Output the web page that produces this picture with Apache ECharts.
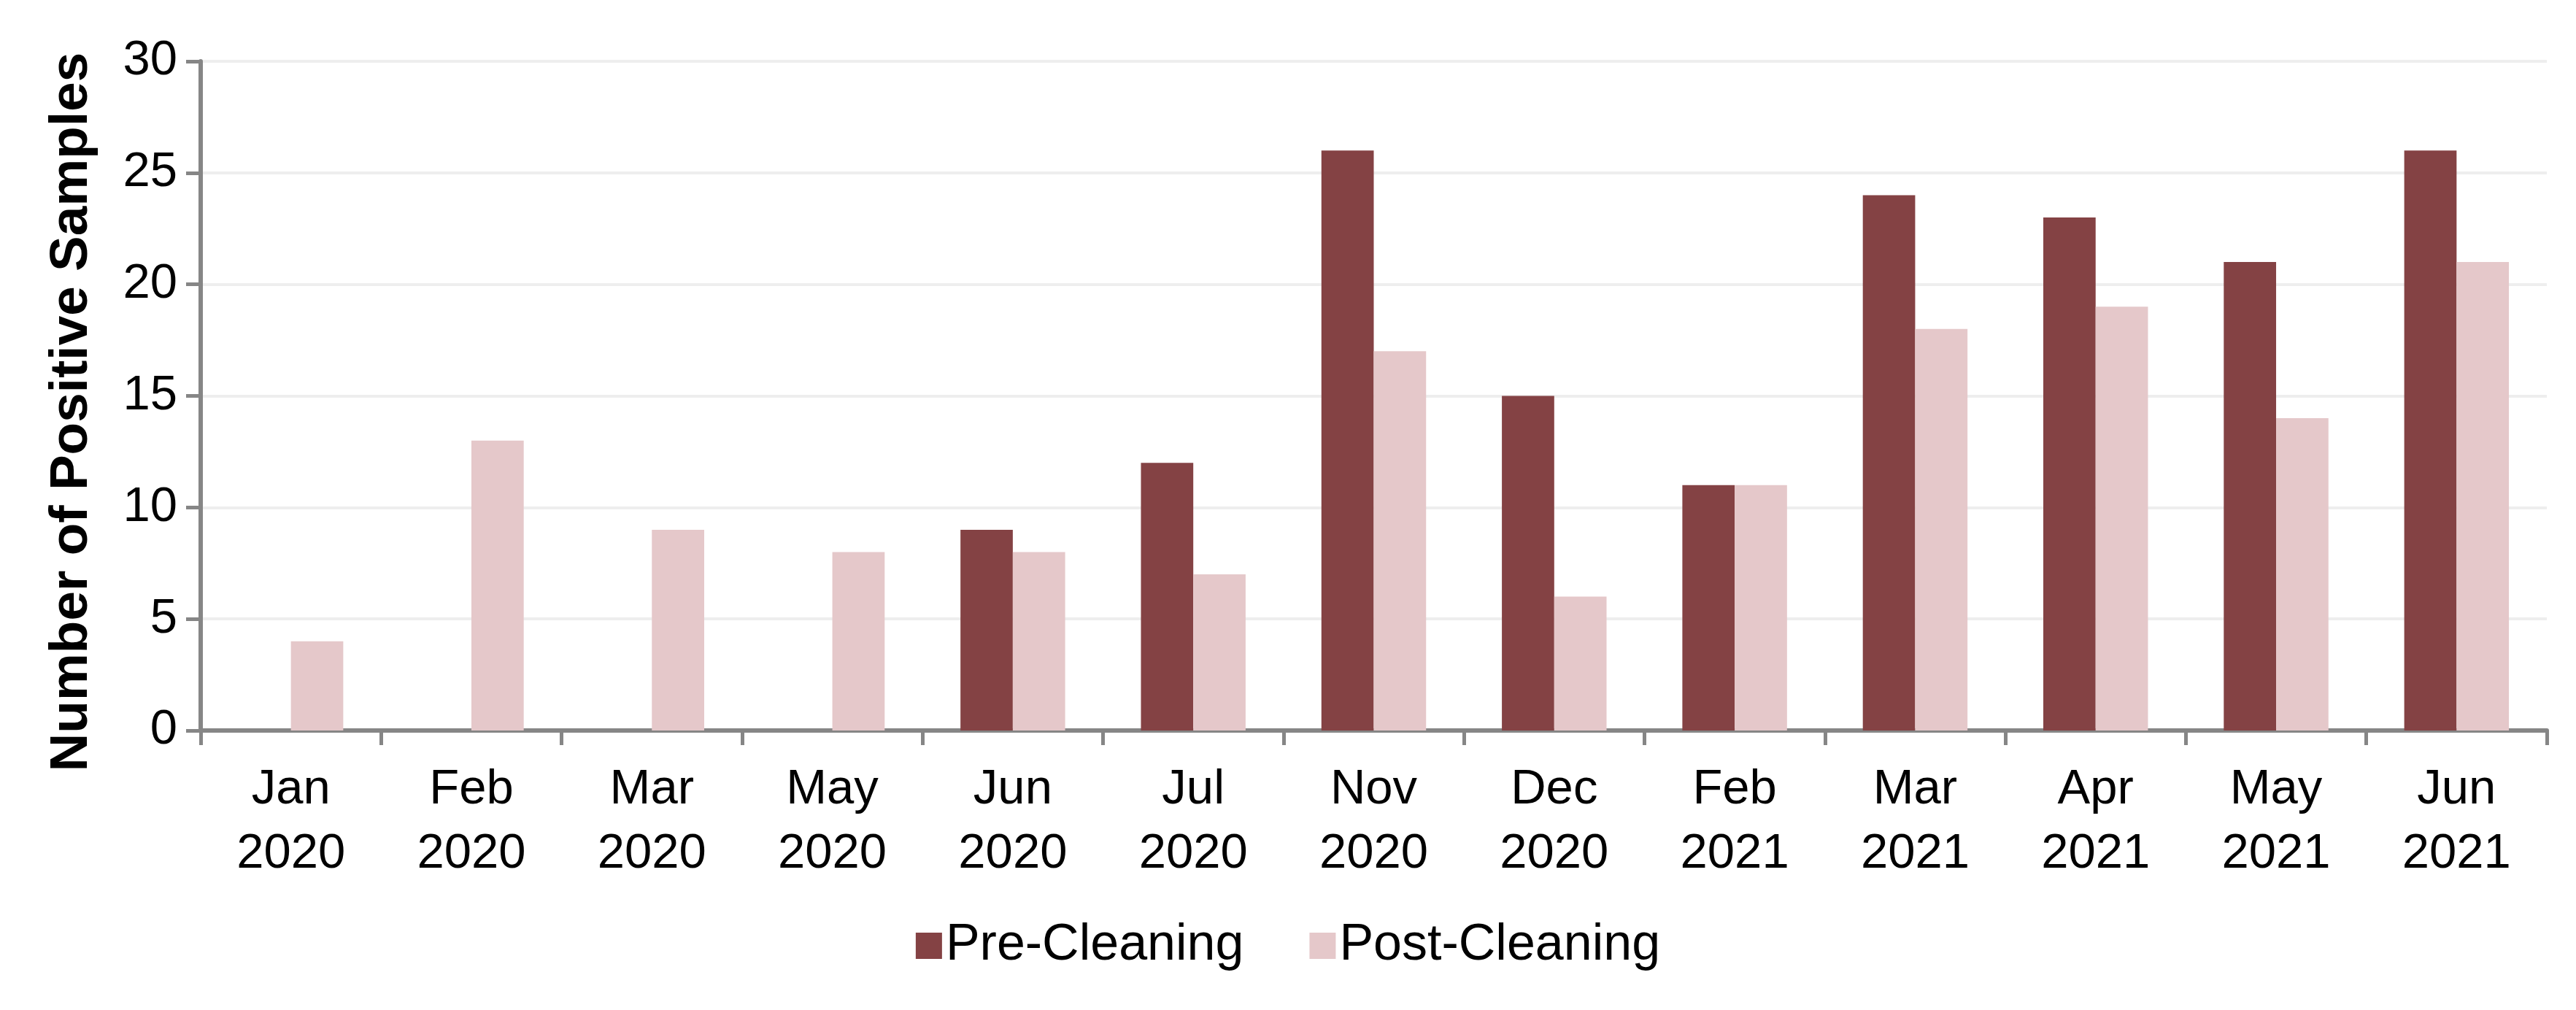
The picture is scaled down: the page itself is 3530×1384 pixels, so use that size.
<!DOCTYPE html>
<html>
<head>
<meta charset="utf-8">
<script src="https://cdn.jsdelivr.net/npm/echarts@6/dist/echarts.min.js"></script>
<style>
  html, body { margin: 0; padding: 0; background: #fff; }
  #chart { width: 3530px; height: 1384px; }
</style>
</head>
<body>
<div id="chart"></div>
<script>
// data
const months = ['Jan\n2020', 'Feb\n2020', 'Mar\n2020', 'May\n2020', 'Jun\n2020', 'Jul\n2020', 'Nov\n2020',
    'Dec\n2020', 'Feb\n2021', 'Mar\n2021', 'Apr\n2021', 'May\n2021', 'Jun\n2021']
const preCleaning = [0, 0, 0, 0, 9, 12, 26, 15, 11, 24, 23, 21, 26]
const postCleaning = [4, 13, 9, 8, 8, 7, 17, 6, 11, 18, 19, 14, 21]
const yTicks = [0, 5, 10, 15, 20, 25, 30]

const font = "'Liberation Sans', Arial, sans-serif"
const axisGray = '#868686'

var myChart = echarts.init(document.getElementById('chart'))

var option = {
    animation: false,
    textStyle: { fontFamily: font },
    grid: {
        left: 275,
        right: 40,
        top: 84,
        bottom: 383
    },
    legend: {
        data: ['Pre-Cleaning', 'Post-Cleaning'],
        bottom: 48,
        left: 'center',
        itemWidth: 36,
        itemHeight: 36,
        itemGap: 90,
        icon: 'rect',
        textStyle: { fontSize: 70, color: '#000', fontFamily: font }
    },
    xAxis: {
        type: 'category',
        data: months,
        axisLine: { lineStyle: { color: axisGray, width: 6 } },
        axisTick: { show: true, length: 20, lineStyle: { color: axisGray, width: 5 } },
        axisLabel: {
            fontSize: 67,
            color: '#000',
            lineHeight: 88,
            margin: 38,
            interval: 0,
            fontFamily: font
        }
    },
    yAxis: {
        type: 'value',
        min: yTicks[0],
        max: yTicks[yTicks.length - 1],
        interval: 5,
        name: 'Number of Positive Samples',
        nameLocation: 'middle',
        nameGap: 140,
        nameTextStyle: {
            fontSize: 73,
            fontWeight: 'bold',
            color: '#000',
            fontFamily: font,
            // nudge the rotated title a little downwards
            padding: [0, 44, 0, 0]
        },
        axisLine: { show: true, lineStyle: { color: axisGray, width: 6 } },
        axisTick: { show: true, length: 20, lineStyle: { color: axisGray, width: 5 } },
        axisLabel: { fontSize: 67, color: '#000', margin: 32, fontFamily: font },
        splitLine: { lineStyle: { color: '#eeeeee', width: 4 } }
    },
    series: [
        {
            name: 'Pre-Cleaning',
            type: 'bar',
            data: preCleaning,
            barGap: '0%',
            barCategoryGap: '42%',
            itemStyle: { color: '#844244' }
        },
        {
            name: 'Post-Cleaning',
            type: 'bar',
            data: postCleaning,
            barGap: '0%',
            barCategoryGap: '42%',
            itemStyle: { color: '#e5c8ca' }
        }
    ]
}

myChart.setOption(option)
</script>
</body>
</html>
